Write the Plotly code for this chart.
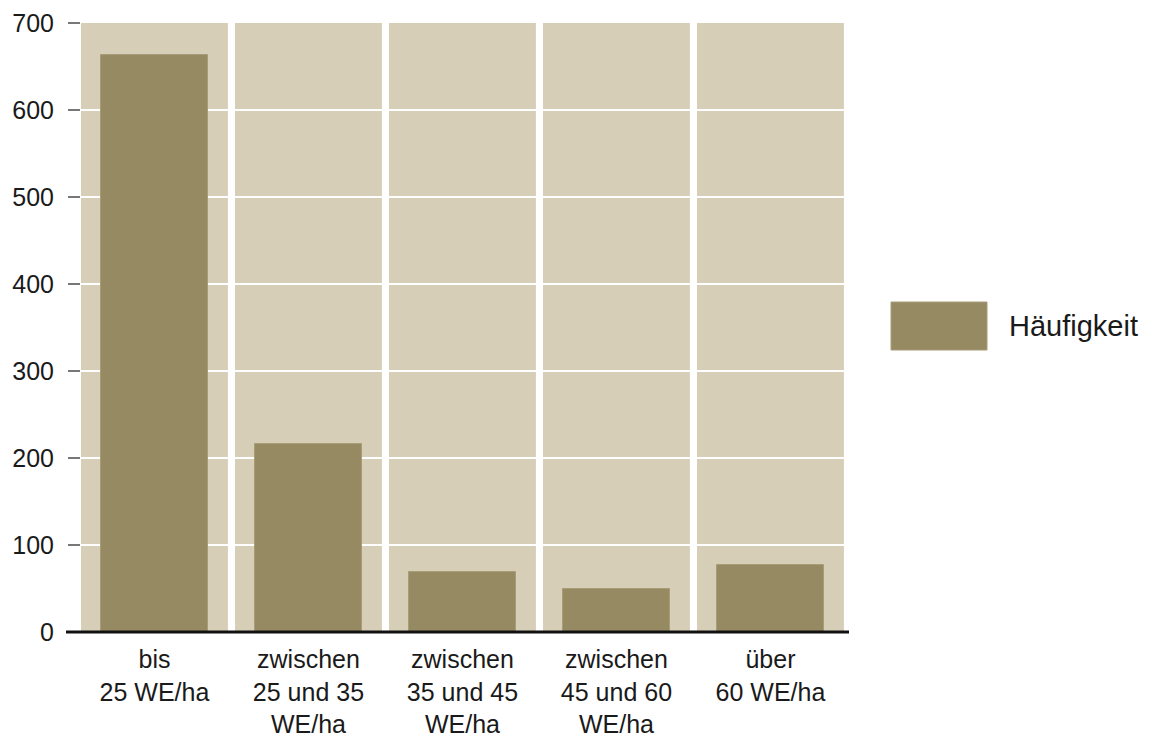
import plotly.graph_objects as go

# Number of sites by housing density class (WE/ha = Wohneinheiten pro Hektar)
categories = [
    "bis<br>25 WE/ha",
    "zwischen<br>25 und 35<br>WE/ha",
    "zwischen<br>35 und 45<br>WE/ha",
    "zwischen<br>45 und 60<br>WE/ha",
    "über<br>60 WE/ha",
]
haeufigkeit = [663, 216, 69, 49, 77]
y_ticks = [0, 100, 200, 300, 400, 500, 600, 700]
series_name = "Häufigkeit"

W, H = 1149, 740
ML, MR, MT, MB = 81, 300, 23, 108
PW, PH = W - ML - MR, H - MT - MB

FONT = "Liberation Sans, Arial, Helvetica, sans-serif"
PANEL = "#D6CEB7"
BAR = "#968A62"

x_idx = list(range(len(categories)))

fig = go.Figure()
fig.add_trace(go.Bar(
    x=x_idx,
    y=haeufigkeit,
    name=series_name,
    width=0.70,
    marker=dict(color=BAR, line=dict(color="#A89D78", width=1)),
    showlegend=False,
))

# beige background panel behind each category
shapes = []
for i in x_idx:
    shapes.append(dict(
        type="rect", xref="x", yref="y", layer="below",
        x0=i - 0.477, x1=i + 0.477, y0=0, y1=max(y_ticks),
        fillcolor=PANEL, line=dict(width=0),
    ))

# baseline extending slightly left of the first panel (paper refs so it is not clipped)
shapes.append(dict(
    type="line", xref="paper", yref="paper", layer="above",
    x0=-15 / PW, x1=1.0, y0=0, y1=0,
    line=dict(color="#111111", width=3),
))

# legend swatch
shapes.append(dict(
    type="rect", xref="paper", yref="paper",
    x0=(891 - ML) / PW, x1=(987 - ML) / PW,
    y0=(MT + PH - 350) / PH, y1=(MT + PH - 302) / PH,
    fillcolor=BAR, line=dict(color="#A89D78", width=1),
))

fig.update_layout(
    width=W, height=H,
    margin=dict(l=ML, r=MR, t=MT, b=MB, autoexpand=False),
    paper_bgcolor="white",
    plot_bgcolor="white",
    font=dict(family=FONT, size=25, color="#1a1a1a"),
    shapes=shapes,
    annotations=[dict(
        xref="paper", yref="paper",
        x=(1007 - ML) / PW, y=(MT + PH - 326) / PH,
        xanchor="left", yanchor="middle",
        text=series_name, showarrow=False,
        font=dict(family=FONT, size=29, color="#1a1a1a"),
    )],
    xaxis=dict(
        range=[-0.477, -0.477 + PW / 154],
        tickmode="array", tickvals=x_idx, ticktext=categories,
        showgrid=False, showline=False, zeroline=False,
        ticks="", ticklabelstandoff=10, automargin=False,
        tickfont=dict(family=FONT, size=25),
    ),
    yaxis=dict(
        range=[0, 700],
        tickmode="array", tickvals=y_ticks,
        showgrid=True, gridcolor="white", gridwidth=1.5,
        zeroline=False, showline=False,
        ticks="outside", ticklen=12, tickcolor="#777777", tickwidth=1.5,
        ticklabelstandoff=9, automargin=False,
        tickfont=dict(family=FONT, size=25),
    ),
    bargap=0,
)

fig.write_html("out.html")
